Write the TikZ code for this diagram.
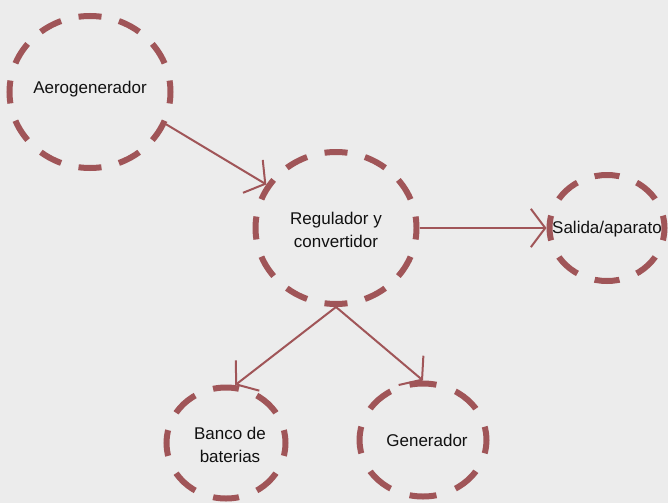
\documentclass[tikz,border=0pt]{standalone}
\usepackage{fontspec}
\setmainfont{Liberation Sans}
\usetikzlibrary{shapes.geometric,arrows.meta}
\definecolor{bg}{HTML}{ECECEC}
\definecolor{rim}{HTML}{A05558}
\definecolor{ink}{HTML}{111111}
\tikzset{
  bubble/.style 2 args={ellipse, draw=rim, line width=6pt, line cap=butt,
    dash pattern=on #1pt off #2pt, dash phase=#1pt/2, inner sep=0pt},
  txt/.style={text=ink, font=\fontsize{17}{23}\selectfont, align=center, inner sep=0pt},
  link/.style={draw=rim, line width=2pt, -{Straight Barb[angle=106:24pt, line width=2pt]}}
}
\begin{document}
\begin{tikzpicture}[x=1pt,y=-1pt]
\fill[bg] (0,0) rectangle (668,503);
\useasboundingbox (0,0) rectangle (668,503);
\node[bubble={23}{17.98}, minimum width=161pt, minimum height=152pt] (aero) at (90,92) {};
\node[bubble={23}{17.98}, minimum width=161pt, minimum height=152pt] (reg) at (336,228) {};
\node[bubble={25}{18.41}, minimum width=115pt, minimum height=106pt] (sal) at (607,228) {};
\node[bubble={26}{19.17}, minimum width=119pt, minimum height=111pt] (banco) at (226,443) {};
\node[bubble={27}{20.16}, minimum width=127pt, minimum height=113pt] (gen) at (423,440) {};
\node[txt] (aero-t) at (90,89) {Aerogenerador};
\node[txt] (reg-t) at (336,230) {Regulador y\\convertidor};
\node[txt] (sal-t) at (607,229) {Salida/aparato};
\node[txt] (banco-t) at (230,445) {Banco de\\baterias};
\node[txt] (gen-t) at (427,440) {Generador};
\draw[link] (aero.-23) -- (reg.148);
\draw[link] (reg.east) -- (sal.west);
\draw[link] (reg.south) -- (banco.81);
\draw[link] (reg.south) -- (gen.north);
\end{tikzpicture}
\end{document}
